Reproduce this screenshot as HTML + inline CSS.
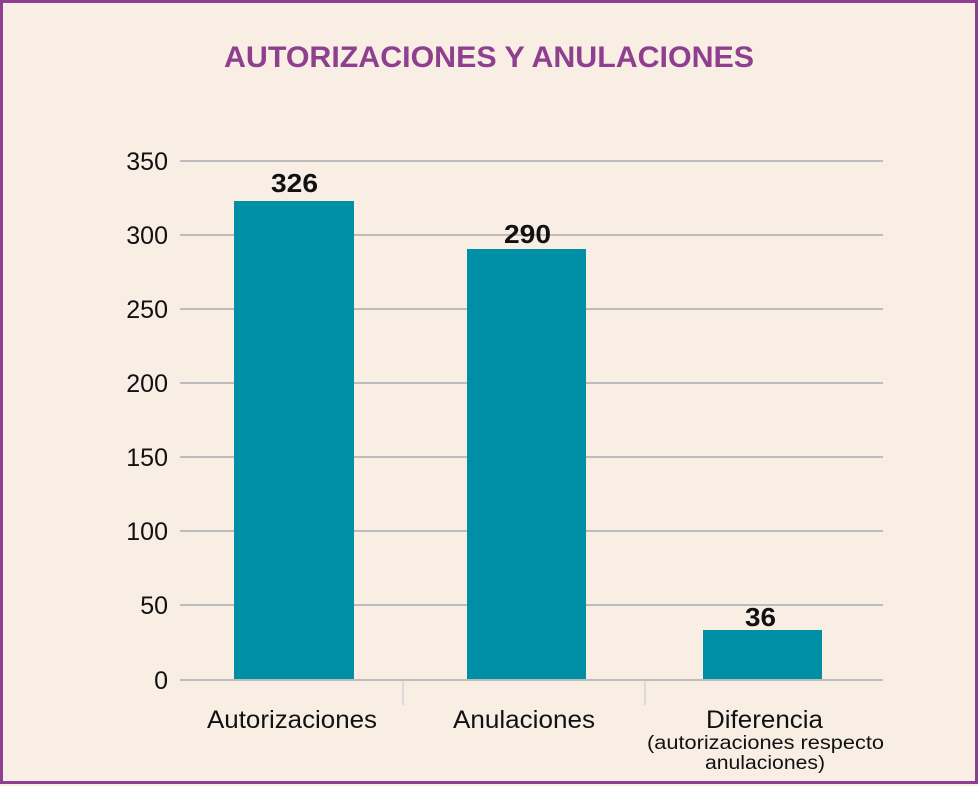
<!DOCTYPE html>
<html><head><style>
html,body{margin:0;padding:0;background:#f8eee3;}
svg{display:block;font-family:"Liberation Sans",Arial,sans-serif;}
</style></head><body>
<svg width="978" height="786" viewBox="0 0 978 786">
<rect x="0" y="0" width="978" height="786" fill="#f8eee3"/>
<rect x="1.5" y="1.5" width="975" height="781" fill="none" stroke="#8f3f8f" stroke-width="3"/>
<text x="224" y="67" font-size="30" font-weight="bold" fill="#8f3f8f" textLength="530" lengthAdjust="spacingAndGlyphs">AUTORIZACIONES Y ANULACIONES</text>
<g stroke="#bdbdbd" stroke-width="2">
<line x1="180" y1="161" x2="883" y2="161"/>
<line x1="180" y1="235" x2="883" y2="235"/>
<line x1="180" y1="309" x2="883" y2="309"/>
<line x1="180" y1="383" x2="883" y2="383"/>
<line x1="180" y1="457" x2="883" y2="457"/>
<line x1="180" y1="531" x2="883" y2="531"/>
<line x1="180" y1="605" x2="883" y2="605"/>
</g>
<g fill="#0090a6">
<rect x="234" y="201" width="120" height="479"/>
<rect x="467" y="249" width="119" height="431"/>
<rect x="703" y="630" width="119" height="50"/>
</g>
<line x1="180" y1="680" x2="883" y2="680" stroke="#bdbdbd" stroke-width="2"/>
<g stroke="#d6d6d6" stroke-width="1.5">
<line x1="403" y1="681" x2="403" y2="705"/>
<line x1="645" y1="681" x2="645" y2="705"/>
</g>
<g font-size="25" fill="#111" text-anchor="end">
<text x="168" y="170">350</text>
<text x="168" y="244">300</text>
<text x="168" y="318">250</text>
<text x="168" y="392">200</text>
<text x="168" y="466">150</text>
<text x="168" y="540">100</text>
<text x="168" y="614">50</text>
<text x="168" y="689">0</text>
</g>
<g font-size="26" font-weight="bold" fill="#111">
<text x="271" y="192" textLength="47" lengthAdjust="spacingAndGlyphs">326</text>
<text x="504" y="243" textLength="47" lengthAdjust="spacingAndGlyphs">290</text>
<text x="745" y="626" textLength="31" lengthAdjust="spacingAndGlyphs">36</text>
</g>
<g fill="#111">
<text x="207" y="728" font-size="25" textLength="170" lengthAdjust="spacingAndGlyphs">Autorizaciones</text>
<text x="453" y="728" font-size="25" textLength="142" lengthAdjust="spacingAndGlyphs">Anulaciones</text>
<text x="706" y="728" font-size="25" textLength="117" lengthAdjust="spacingAndGlyphs">Diferencia</text>
<text x="647" y="749" font-size="19" textLength="237" lengthAdjust="spacingAndGlyphs">(autorizaciones respecto</text>
<text x="705" y="769" font-size="19" textLength="120" lengthAdjust="spacingAndGlyphs">anulaciones)</text>
</g>
</svg>
</body></html>
